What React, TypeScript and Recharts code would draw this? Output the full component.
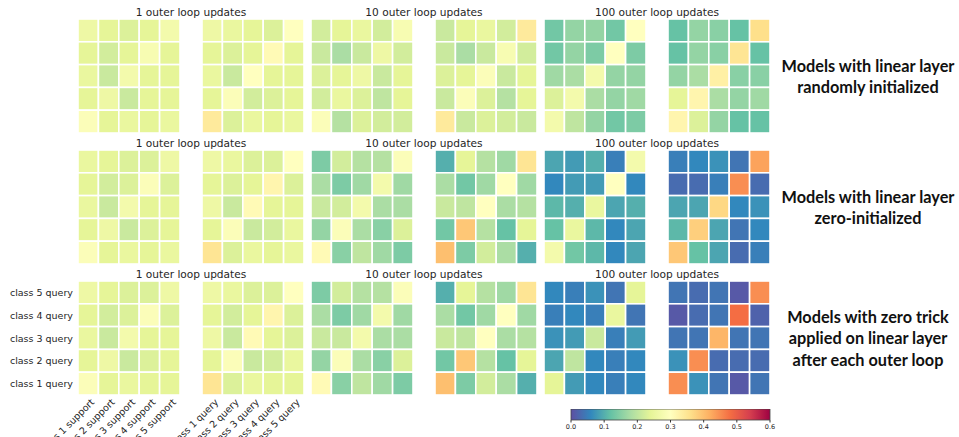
import { ScatterChart, Scatter, XAxis, YAxis, ReferenceArea } from 'recharts';

// rows listed top to bottom (class 5 query ... class 1 query), columns class 1..5
const rand1Support = [
  [0.26, 0.24, 0.23, 0.24, 0.27],
  [0.24, 0.22, 0.24, 0.28, 0.24],
  [0.25, 0.21, 0.27, 0.24, 0.24],
  [0.24, 0.26, 0.21, 0.24, 0.24],
  [0.29, 0.24, 0.25, 0.24, 0.25],
];
const rand1Query = [
  [0.26, 0.25, 0.24, 0.23, 0.3],
  [0.24, 0.23, 0.24, 0.31, 0.24],
  [0.25, 0.21, 0.3, 0.24, 0.24],
  [0.24, 0.29, 0.22, 0.23, 0.24],
  [0.34, 0.23, 0.25, 0.24, 0.25],
];
const rand10Support = [
  [0.22, 0.24, 0.25, 0.22, 0.28],
  [0.21, 0.18, 0.21, 0.26, 0.22],
  [0.23, 0.24, 0.26, 0.21, 0.24],
  [0.22, 0.25, 0.23, 0.2, 0.24],
  [0.29, 0.19, 0.23, 0.22, 0.22],
];
const rand10Query = [
  [0.21, 0.24, 0.25, 0.22, 0.34],
  [0.21, 0.18, 0.21, 0.28, 0.22],
  [0.23, 0.24, 0.29, 0.21, 0.24],
  [0.21, 0.29, 0.23, 0.19, 0.24],
  [0.34, 0.21, 0.23, 0.22, 0.21],
];
const rand100Support = [
  [0.13, 0.16, 0.16, 0.13, 0.3],
  [0.13, 0.16, 0.14, 0.3, 0.14],
  [0.17, 0.18, 0.27, 0.16, 0.16],
  [0.23, 0.27, 0.18, 0.16, 0.17],
  [0.27, 0.2, 0.16, 0.13, 0.14],
];
const rand100Query = [
  [0.12, 0.16, 0.15, 0.12, 0.36],
  [0.12, 0.16, 0.15, 0.35, 0.12],
  [0.16, 0.18, 0.33, 0.15, 0.15],
  [0.24, 0.32, 0.18, 0.16, 0.17],
  [0.32, 0.23, 0.16, 0.12, 0.12],
];

const zero1Support = [
  [0.25, 0.24, 0.23, 0.23, 0.26],
  [0.24, 0.22, 0.23, 0.29, 0.23],
  [0.25, 0.21, 0.27, 0.24, 0.24],
  [0.24, 0.26, 0.21, 0.23, 0.24],
  [0.29, 0.24, 0.25, 0.24, 0.25],
];
const zero1Query = [
  [0.26, 0.25, 0.23, 0.23, 0.3],
  [0.24, 0.23, 0.24, 0.32, 0.23],
  [0.26, 0.21, 0.31, 0.24, 0.24],
  [0.24, 0.29, 0.21, 0.22, 0.25],
  [0.35, 0.23, 0.25, 0.24, 0.25],
];
const zero10Support = [
  [0.14, 0.22, 0.19, 0.19, 0.29],
  [0.18, 0.14, 0.17, 0.27, 0.17],
  [0.21, 0.22, 0.27, 0.18, 0.18],
  [0.16, 0.29, 0.18, 0.15, 0.23],
  [0.31, 0.15, 0.2, 0.17, 0.14],
];
const zero10Query = [
  [0.1, 0.24, 0.19, 0.17, 0.35],
  [0.18, 0.13, 0.17, 0.3, 0.17],
  [0.21, 0.2, 0.3, 0.18, 0.19],
  [0.13, 0.39, 0.19, 0.12, 0.24],
  [0.4, 0.14, 0.22, 0.18, 0.1],
];
const zero100Support = [
  [0.09, 0.08, 0.1, 0.05, 0.27],
  [0.06, 0.08, 0.08, 0.3, 0.06],
  [0.11, 0.1, 0.25, 0.09, 0.1],
  [0.12, 0.25, 0.11, 0.06, 0.09],
  [0.27, 0.13, 0.11, 0.06, 0.09],
];
const zero100Query = [
  [0.05, 0.06, 0.07, 0.04, 0.43],
  [0.03, 0.03, 0.05, 0.45, 0.03],
  [0.09, 0.09, 0.37, 0.06, 0.07],
  [0.11, 0.38, 0.09, 0.04, 0.06],
  [0.39, 0.12, 0.09, 0.03, 0.05],
];

const trick1Support = [
  [0.26, 0.24, 0.23, 0.23, 0.26],
  [0.24, 0.22, 0.23, 0.29, 0.23],
  [0.25, 0.21, 0.27, 0.24, 0.24],
  [0.24, 0.26, 0.21, 0.23, 0.24],
  [0.29, 0.24, 0.25, 0.24, 0.24],
];
const trick1Query = [
  [0.26, 0.25, 0.23, 0.23, 0.3],
  [0.24, 0.22, 0.24, 0.32, 0.23],
  [0.26, 0.21, 0.31, 0.24, 0.23],
  [0.24, 0.29, 0.21, 0.22, 0.25],
  [0.35, 0.23, 0.25, 0.24, 0.24],
];
const trick10Support = [
  [0.14, 0.22, 0.19, 0.19, 0.29],
  [0.18, 0.14, 0.17, 0.27, 0.17],
  [0.21, 0.21, 0.27, 0.18, 0.18],
  [0.16, 0.29, 0.18, 0.15, 0.23],
  [0.31, 0.15, 0.2, 0.17, 0.14],
];
const trick10Query = [
  [0.1, 0.24, 0.19, 0.17, 0.35],
  [0.18, 0.13, 0.17, 0.3, 0.17],
  [0.21, 0.2, 0.3, 0.18, 0.19],
  [0.13, 0.39, 0.19, 0.12, 0.24],
  [0.4, 0.14, 0.22, 0.18, 0.1],
];
const trick100Support = [
  [0.06, 0.05, 0.07, 0.04, 0.24],
  [0.05, 0.06, 0.05, 0.25, 0.04],
  [0.07, 0.08, 0.21, 0.05, 0.08],
  [0.09, 0.2, 0.06, 0.05, 0.06],
  [0.24, 0.08, 0.06, 0.05, 0.06],
];
const trick100Query = [
  [0.04, 0.03, 0.04, 0.01, 0.45],
  [0.01, 0.03, 0.04, 0.48, 0.02],
  [0.04, 0.04, 0.41, 0.04, 0.04],
  [0.07, 0.45, 0.03, 0.03, 0.03],
  [0.45, 0.07, 0.04, 0.01, 0.04],
];

const supportLabels = ['class 1 support', 'class 2 support', 'class 3 support', 'class 4 support', 'class 5 support'];
const queryLabels = ['class 1 query', 'class 2 query', 'class 3 query', 'class 4 query', 'class 5 query'];
const panelTitles = ['1 outer loop updates', '10 outer loop updates', '100 outer loop updates'];
const rowNotes = [
  ['Models with linear layer', 'randomly initialized'],
  ['Models with linear layer', 'zero-initialized'],
  ['Models with zero trick', 'applied on linear layer', 'after each outer loop'],
];
const colorbarTicks = [0, 0.1, 0.2, 0.3, 0.4, 0.5, 0.6];

const rows = [
  [rand1Support, rand1Query, rand10Support, rand10Query, rand100Support, rand100Query],
  [zero1Support, zero1Query, zero10Support, zero10Query, zero100Support, zero100Query],
  [trick1Support, trick1Query, trick10Support, trick10Query, trick100Support, trick100Query],
];

// layout
const PANEL_X = [78, 202, 311, 435, 544, 668];
const ROW_Y = [19, 150, 281];
const PANEL_W = 102;
const PANEL_H = 114;
const CELL_TICKS = [0.5, 1.5, 2.5, 3.5, 4.5];
const VMAX = 0.6;
const MPL_FONT = '"DejaVu Sans", sans-serif';
const TEXT = '#262626';

const SPECTRAL_R = ['#5e4fa2', '#3288bd', '#66c2a5', '#abdda4', '#e6f598', '#ffffbf', '#fee08b', '#fdae61', '#f46d43', '#d53e4f', '#9e0142'];

function hexToRgb(h: string) {
  return [1, 3, 5].map((i) => parseInt(h.slice(i, i + 2), 16));
}

function spectral(v: number) {
  const t = Math.max(0, Math.min(1, v / VMAX)) * (SPECTRAL_R.length - 1);
  const i = Math.min(Math.floor(t), SPECTRAL_R.length - 2);
  const f = t - i;
  const a = hexToRgb(SPECTRAL_R[i]);
  const b = hexToRgb(SPECTRAL_R[i + 1]);
  const c = a.map((x, k) => Math.round(x + (b[k] - x) * f));
  return `rgb(${c[0]},${c[1]},${c[2]})`;
}

function toPoints(matrix: number[][]) {
  return matrix.flatMap((row, i) => row.map((v, j) => ({ x: j + 0.5, y: 4.5 - i, v })));
}

function XTick({ x, y, payload, labels }: any) {
  const label = labels[Math.round(payload.value - 0.5)];
  const ax = x + 5;
  const ay = y + 6;
  return (
    <text
      x={ax}
      y={ay}
      transform={`rotate(-45 ${ax} ${ay})`}
      textAnchor="end"
      dominantBaseline="middle"
      fontSize={9.5}
      fontFamily={MPL_FONT}
      fill={TEXT}
    >
      {label}
    </text>
  );
}

function YTick({ x, y, payload, labels }: any) {
  return (
    <text
      x={x}
      y={y}
      textAnchor="end"
      dominantBaseline="central"
      fontSize={9.5}
      fontFamily={MPL_FONT}
      fill={TEXT}
    >
      {labels[Math.round(payload.value - 0.5)]}
    </text>
  );
}

interface HeatmapProps {
  matrix: number[][];
  left: number;
  top: number;
  yLabels?: string[];
  xLabels?: string[];
}

function Heatmap({ matrix, left, top, yLabels, xLabels }: HeatmapProps) {
  const padL = yLabels ? 78 : xLabels ? 90 : 0;
  const padB = xLabels ? 70 : 0;
  const cw = PANEL_W / 5;
  const ch = PANEL_H / 5;
  return (
    <div style={{ position: 'absolute', left: left - padL, top }}>
      <ScatterChart
        width={PANEL_W + padL}
        height={PANEL_H + padB}
        margin={{ top: 0, right: 0, bottom: 0, left: yLabels ? 0 : padL }}
      >
        <XAxis
          type="number"
          dataKey="x"
          domain={[0, 5]}
          ticks={CELL_TICKS}
          interval={0}
          hide={!xLabels}
          height={padB}
          axisLine={false}
          tickLine={false}
          tickSize={0}
          tickMargin={0}
          tick={<XTick labels={xLabels} />}
        />
        <YAxis
          type="number"
          dataKey="y"
          domain={[0, 5]}
          ticks={CELL_TICKS}
          interval={0}
          hide={!yLabels}
          width={yLabels ? 78 : 0}
          axisLine={false}
          tickLine={false}
          tickSize={0}
          tickMargin={5}
          tick={<YTick labels={yLabels} />}
        />
        <Scatter
          data={toPoints(matrix)}
          isAnimationActive={false}
          shape={(p: any) => (
            <rect
              x={p.cx - cw / 2}
              y={p.cy - ch / 2}
              width={cw}
              height={ch}
              fill={spectral(p.payload.v)}
              stroke="#ffffff"
              strokeWidth={1.6}
            />
          )}
        />
      </ScatterChart>
    </div>
  );
}

function Colorbar() {
  return (
    <div style={{ position: 'absolute', left: 561, top: 409 }}>
      <ScatterChart width={219} height={32} margin={{ top: 0, right: 10, bottom: 0, left: 10 }}>
        <XAxis
          type="number"
          dataKey="x"
          domain={[0, 0.6]}
          ticks={colorbarTicks}
          interval={0}
          height={21}
          axisLine={false}
          tickSize={2.5}
          tickMargin={2}
          stroke="#333"
          tick={{ fontSize: 6.5, fontFamily: MPL_FONT, fill: TEXT }}
          tickFormatter={(v: number) => v.toFixed(1)}
        />
        <YAxis type="number" dataKey="y" domain={[0, 1]} hide />
        <ReferenceArea x1={0} x2={0.6} y1={0} y2={1} fill="url(#spectralGrad)" fillOpacity={1} stroke="#444" strokeWidth={0.8} />
        <Scatter data={colorbarTicks.map((t) => ({ x: t, y: 0 }))} isAnimationActive={false} shape={() => <g />} />
      </ScatterChart>
    </div>
  );
}

export default function App() {
  return (
    <div
      style={{
        position: 'absolute',
        left: 0,
        top: 0,
        width: 959,
        height: 437,
        overflow: 'hidden',
        background: '#ffffff',
      }}
    >
      <svg width={0} height={0} style={{ position: 'absolute' }}>
        <defs>
          <linearGradient id="spectralGrad" x1="0" y1="0" x2="1" y2="0">
            {SPECTRAL_R.map((c, i) => (
              <stop key={i} offset={`${(i / (SPECTRAL_R.length - 1)) * 100}%`} stopColor={c} />
            ))}
          </linearGradient>
        </defs>
      </svg>

      {rows.map((panels, r) => (
        <div key={`row-${r}`}>
          {panelTitles.map((title, k) => (
            <div
              key={`title-${r}-${k}`}
              style={{
                position: 'absolute',
                left: (PANEL_X[2 * k] + PANEL_X[2 * k + 1] + PANEL_W) / 2 - 120,
                top: ROW_Y[r] - 13,
                width: 240,
                textAlign: 'center',
                fontFamily: MPL_FONT,
                fontSize: 10.6,
                lineHeight: '12px',
                color: TEXT,
              }}
            >
              {title}
            </div>
          ))}
          {panels.map((m, k) => (
            <Heatmap
              key={`hm-${r}-${k}`}
              matrix={m}
              left={PANEL_X[k]}
              top={ROW_Y[r]}
              yLabels={r === 2 && k === 0 ? queryLabels : undefined}
              xLabels={r === 2 && k === 0 ? supportLabels : r === 2 && k === 1 ? queryLabels : undefined}
            />
          ))}
          <div
            style={{
              position: 'absolute',
              left: 772,
              width: 192,
              top: ROW_Y[r] + PANEL_H / 2 - (rowNotes[r].length * 21.5) / 2,
              textAlign: 'center',
              fontFamily: 'Lato, sans-serif',
              fontWeight: 700,
              fontSize: 16.3,
              lineHeight: '21.5px',
              color: '#111',
            }}
          >
            {rowNotes[r].map((line) => (
              <div key={line}>{line}</div>
            ))}
          </div>
        </div>
      ))}

      <Colorbar />
    </div>
  );
}
